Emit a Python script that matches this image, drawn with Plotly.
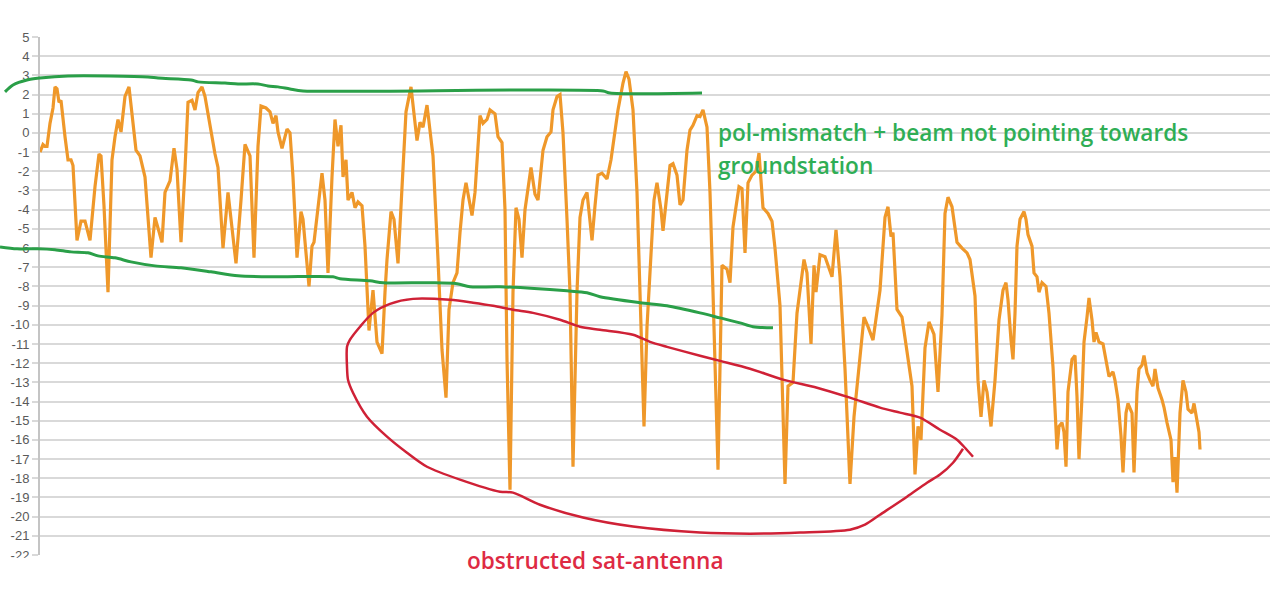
import plotly.graph_objects as go

# ---------------- data ----------------
sample = [0, 3, 5, 7, 10, 13, 15, 17, 19, 21, 25, 28, 31, 33, 37, 41, 45, 50, 55, 59,
          61, 64, 68, 72, 75, 78, 81, 85, 89, 91, 96, 100, 105, 111, 115, 122, 125, 130, 134, 137,
          141, 145, 148, 152, 155, 158, 162, 165, 170, 175, 178, 183, 188, 191, 196, 201, 205, 210, 214, 218,
          221, 226, 230, 233, 236, 238, 242, 247, 250, 253, 257, 261, 263, 269, 272, 274, 282, 285, 288, 292,
          295, 298, 301, 303, 306, 308, 312, 315, 318, 322, 325, 329, 333, 337, 342, 345, 347, 351, 354, 358,
          363, 366, 371, 373, 377, 380, 383, 387, 390, 393, 398, 402, 406, 409, 413, 417, 420, 423, 426, 432,
          435, 440, 443, 447, 450, 455, 458, 462, 465, 467, 470, 473, 476, 479, 482, 485, 491, 495, 498, 503,
          507, 511, 513, 517, 520, 523, 527, 530, 533, 537, 540, 543, 547, 552, 555, 558, 562, 567, 571, 575,
          578, 583, 586, 589, 593, 597, 601, 604, 607, 611, 614, 617, 621, 623, 627, 630, 633, 637, 640, 643,
          647, 650, 653, 657, 660, 663, 667, 670, 673, 678, 682, 687, 690, 693, 699, 702, 705, 708, 712, 716,
          719, 723, 728, 732, 735, 740, 745, 748, 753, 757, 764, 767, 771, 774, 776, 780, 785, 792, 796, 800,
          805, 810, 814, 820, 824, 828, 833, 840, 845, 848, 851, 853, 857, 862, 867, 872, 875, 878, 881, 885,
          889, 894, 898, 902, 905, 908, 912, 917, 922, 927, 930, 935, 938, 941, 944, 947, 951, 955, 959, 963,
          966, 968, 971, 973, 975, 977, 980, 984, 986, 988, 992, 994, 997, 999, 1002, 1006, 1009, 1013, 1017, 1019,
          1022, 1024, 1026, 1028, 1032, 1035, 1037, 1039, 1042, 1044, 1047, 1049, 1052, 1054, 1056, 1059, 1063, 1067, 1069, 1073,
          1075, 1078, 1081, 1083, 1086, 1088, 1092, 1094, 1097, 1099, 1102, 1104, 1107, 1110, 1113, 1115, 1118, 1122, 1124, 1127,
          1131, 1133, 1135, 1137, 1140, 1143, 1146, 1148, 1152, 1154, 1156, 1159, 1160]

level_db = [-1.0, -0.6, -0.7, -0.7, 0.5, 1.3, 2.4, 2.3, 1.6, 1.7, -0.2, -1.4, -1.4, -1.7, -5.6, -4.6, -4.6, -5.6, -2.8, -1.1,
            -1.2, -3.8, -8.3, -1.4, -0.2, 0.7, 0.05, 1.9, 2.4, 1.5, -0.9, -1.2, -2.3, -6.5, -4.4, -5.7, -3.1, -2.5, -0.8, -1.9,
            -5.7, -1.9, 1.6, 1.7, 1.2, 2.1, 2.4, 1.9, 0.3, -1.1, -1.8, -6.0, -3.1, -4.5, -6.8, -3.5, -0.6, -1.2, -6.5, -0.7,
            1.4, 1.3, 1.1, 0.5, 0.9, 0.05, -0.8, 0.2, 0.0, -2.3, -6.5, -4.1, -4.5, -8.0, -5.9, -5.7, -2.1, -3.5, -7.3, -2.3,
            0.7, -0.7, 0.4, -2.3, -1.4, -3.5, -3.1, -3.9, -3.6, -3.8, -5.9, -10.3, -8.2, -10.9, -11.5, -8.3, -6.6, -4.1, -4.5, -6.8,
            -2.3, 1.1, 2.4, 1.5, -0.4, 0.55, 0.3, 1.45, 0.0, -1.2, -6.6, -11.3, -13.8, -9.2, -7.8, -7.3, -5.2, -3.5, -2.6, -4.3,
            -3.1, 0.9, 0.5, 0.7, 1.2, 1.0, -0.2, -0.5, -4.0, -11.8, -18.6, -8.3, -3.9, -4.5, -6.5, -4.0, -1.8, -3.2, -3.5, -0.9,
            -0.2, 0.05, 1.2, 1.9, 2.0, 0.0, -4.5, -8.3, -17.4, -8.3, -4.4, -3.5, -3.1, -5.6, -3.8, -2.2, -2.1, -2.4, -1.4, 0.0,
            1.2, 2.6, 3.2, 2.8, 1.2, -3.1, -10.1, -15.3, -10.1, -6.6, -3.5, -2.6, -4.0, -5.1, -3.0, -1.7, -1.6, -2.2, -3.75, -3.5,
            -0.9, 0.15, 0.4, 0.9, 0.85, 1.2, 0.3, -3.1, -8.3, -17.55, -6.9, -7.1, -7.8, -4.9, -2.8, -2.9, -6.25, -2.6, -2.2, -2.0,
            -1.05, -3.9, -4.2, -4.6, -6.0, -9.0, -18.3, -13.2, -13.0, -9.4, -6.6, -7.3, -11.0, -6.9, -8.3, -6.35, -6.45, -7.5, -5.05, -7.5,
            -12.3, -18.3, -14.8, -11.7, -9.6, -10.1, -10.8, -8.2, -4.4, -3.85, -5.4, -5.2, -9.2, -9.6, -11.3, -13.2, -17.8, -15.3, -16.0, -11.2,
            -9.85, -10.5, -13.5, -9.5, -4.2, -3.35, -3.85, -5.7, -6.0, -6.25, -6.6, -8.5, -12.9, -14.8, -12.9, -13.5, -15.3, -12.9, -9.75, -8.2,
            -7.8, -8.7, -10.8, -11.8, -9.4, -5.9, -4.5, -4.1, -4.5, -5.3, -5.9, -7.3, -7.5, -8.3, -7.8, -8.0, -9.4, -12.2, -16.5, -15.3,
            -15.1, -15.6, -17.4, -13.5, -11.8, -11.6, -13.75, -17.0, -13.75, -10.9, -9.6, -8.6, -9.75, -10.9, -10.4, -10.9, -11.0, -12.2, -12.7, -12.45,
            -12.9, -13.9, -15.8, -17.7, -14.6, -14.1, -14.6, -17.7, -13.5, -12.3, -12.1, -11.6, -12.5, -12.9, -13.2, -12.3, -13.3, -13.9, -14.3, -15.1,
            -16.0, -18.2, -16.9, -18.75, -14.6, -12.9, -13.5, -14.4, -14.6, -14.1, -14.8, -15.6, -16.5]

assert len(sample) == len(level_db)

y_tick_vals = list(range(5, -23, -1))
y_tick_text = [str(v) for v in y_tick_vals]

# hand-drawn annotation strokes (sample, dB)
green_hi_x = [-35, -27, -13, 0, 28, 108, 118, 151, 158, 185, 198, 218, 228, 238, 250, 263, 563, 570, 662]
green_hi_y = [2.14, 2.5, 2.76, 2.86, 2.97, 2.92, 2.86, 2.76, 2.66, 2.6, 2.55, 2.55, 2.45, 2.4, 2.29, 2.19, 2.19, 2.08, 2.08]

green_lo_x = [-40, -23, -2, 15, 31, 48, 58, 75, 91, 115, 141, 171, 198, 238, 293, 300, 330, 343, 390, 417,
              430, 460, 527, 547, 560, 600, 627, 660, 680, 700, 713, 733]
green_lo_y = [-5.94, -6.04, -6.04, -6.09, -6.2, -6.25, -6.41, -6.51, -6.72, -6.93, -7.03, -7.24, -7.45, -7.5, -7.5, -7.6,
              -7.71, -7.81, -7.81, -7.86, -8.02, -8.02, -8.23, -8.33, -8.54, -8.85, -9.01, -9.38, -9.64, -9.9, -10.1, -10.16]

red_x = [923, 913, 900, 887, 867, 840, 825, 810, 760, 710, 660, 593, 543, 500, 473, 460, 420, 387, 367, 347,
         327, 313, 308, 307, 307, 310, 320, 333, 350, 373, 410, 433, 453, 473, 493, 520, 540, 560, 593, 610,
         627, 660, 680, 710, 743, 777, 810, 840, 860, 880, 900, 917, 925, 933]
red_y = [-16.46, -17.19, -17.81, -18.23, -18.96, -19.9, -20.42, -20.68, -20.83, -20.89, -20.83, -20.52, -20.05, -19.38,
         -18.75, -18.7, -18.07, -17.4, -16.67, -15.83, -14.79, -13.54, -12.86, -12.19, -11.15, -10.78, -10.1, -9.38,
         -8.91, -8.65, -8.7, -8.85, -9.01, -9.22, -9.38, -9.74, -10.1, -10.26, -10.52, -10.89, -11.15, -11.61, -11.88,
         -12.29, -12.86, -13.28, -13.8, -14.32, -14.58, -14.84, -15.47, -15.99, -16.41, -16.88]

# ---------------- figure ----------------
W, H = 1280, 602
L_PX, R_PX = 40, 1270
X0 = 0
X_SPAN = R_PX - L_PX  # sample units across plot area

ORANGE = "#EF982A"
GREEN = "#2A9F48"
RED = "#CF2136"
TXT_GREEN = "#2FAE55"
TXT_RED = "#DE2A43"

fig = go.Figure()

fig.add_trace(go.Scatter(
    x=sample, y=level_db, mode="lines",
    line=dict(color=ORANGE, width=3.2),
    xaxis="x", yaxis="y", showlegend=False, hoverinfo="skip",
))

for xs, ys, col, w in [(green_hi_x, green_hi_y, GREEN, 3),
                       (green_lo_x, green_lo_y, GREEN, 3),
                       (red_x, red_y, RED, 2.5)]:
    fig.add_trace(go.Scatter(
        x=xs, y=ys, mode="lines",
        line=dict(color=col, width=w, shape="spline", smoothing=0.8),
        xaxis="x2", yaxis="y2", showlegend=False, hoverinfo="skip",
    ))

y_range = [-22, 5]

fig.update_layout(
    width=W, height=H,
    margin=dict(l=0, r=0, t=37, b=47),
    paper_bgcolor="white",
    plot_bgcolor="rgba(0,0,0,0)",
    xaxis=dict(domain=[L_PX / W, R_PX / W], range=[X0, X0 + X_SPAN],
               visible=False, anchor="y"),
    yaxis=dict(range=y_range, tickvals=y_tick_vals, ticktext=y_tick_text,
               showgrid=True, gridcolor="#d9d9d9", gridwidth=1.5,
               zeroline=False, showline=True, linecolor="#c4c4c4", linewidth=2,
               ticks="outside", ticklen=6, tickcolor="#d9d9d9", tickwidth=1.5,
               tickfont=dict(family="Liberation Sans, Arial", size=13, color="#5a5a5a"),
               anchor="x"),
    xaxis2=dict(domain=[0, 1], range=[X0 - L_PX, X0 - L_PX + W], visible=False, anchor="y2"),
    yaxis2=dict(domain=[0, 1], range=y_range, visible=False, anchor="x2"),
    font=dict(family="Open Sans, Noto Sans, sans-serif"),
)

# cover the lower half of the cut-off bottom tick label
fig.add_shape(type="rect", xref="paper", yref="paper", layer="above",
              x0=0, x1=(L_PX - 1) / W, y0=-0.2, y1=-3 / 518,
              fillcolor="white", line=dict(width=0))

TXT_SIZE = 22.6
fig.add_annotation(x=676, y=0.0, xref="x2", yref="y2", xanchor="left", yanchor="middle",
                   text="pol-mismatch + beam not pointing towards", showarrow=False,
                   font=dict(family="Open Sans", size=TXT_SIZE, color=TXT_GREEN, weight=600))
fig.add_annotation(x=676, y=-1.72, xref="x2", yref="y2", xanchor="left", yanchor="middle",
                   text="groundstation", showarrow=False,
                   font=dict(family="Open Sans", size=TXT_SIZE, color=TXT_GREEN, weight=600))
fig.add_annotation(x=425, y=-0.0097, xref="x2", yref="paper", xanchor="left", yanchor="middle",
                   text="obstructed sat-antenna", showarrow=False,
                   font=dict(family="Open Sans", size=TXT_SIZE, color=TXT_RED, weight=600))

fig.write_html("out.html")
